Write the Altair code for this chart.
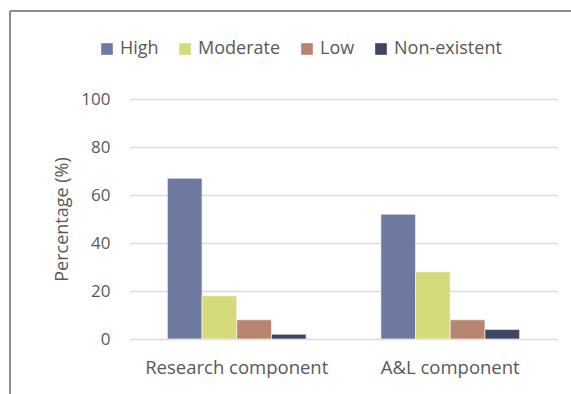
import altair as alt
import pandas as pd

# Survey results: share of respondents per level, by component
components = ["Research component", "A&L component"]
levels = ["High", "Moderate", "Low", "Non-existent"]
research_values = [67, 18, 8, 2]
al_values = [52, 28, 8, 4]
level_colors = ["#6F7AA0", "#D5DB7B", "#B88571", "#3E4666"]

rows = []
for comp, vals in zip(components, [research_values, al_values]):
    for lvl, v in zip(levels, vals):
        rows.append({"component": comp, "level": lvl, "pct": v})
df = pd.DataFrame(rows)

FONT = "Open Sans"
GREY_TEXT = "#595959"

bars = alt.Chart(df).mark_bar(stroke="white", strokeWidth=0.6).encode(
    x=alt.X(
        "component:N",
        sort=components,
        scale=alt.Scale(paddingInner=0.35, paddingOuter=0.175),
        axis=alt.Axis(
            title=None, labelAngle=0, labelFontSize=18.5, labelColor=GREY_TEXT,
            labelFont=FONT, labelPadding=19, labelLimit=0, ticks=False,
            domain=False,
        ),
    ),
    xOffset=alt.XOffset("level:N", sort=levels),
    y=alt.Y(
        "pct:Q",
        scale=alt.Scale(domain=[0, 100]),
        axis=alt.Axis(
            title="Percentage (%)", values=[0, 20, 40, 60, 80, 100],
            labelFontSize=17, labelColor=GREY_TEXT, labelFont=FONT,
            labelPadding=20, ticks=False, domain=False,
            gridColor="#D9D9D9", gridWidth=1.5,
            titleFont=FONT, titleFontSize=18, titleFontWeight="normal",
            titleColor=GREY_TEXT, titleX=-68, titleY=120, titleAngle=-90,
            titleAlign="center", titleBaseline="middle",
        ),
    ),
    color=alt.Color(
        "level:N",
        sort=levels,
        scale=alt.Scale(domain=levels, range=level_colors),
        legend=alt.Legend(
            title=None, orient="none", direction="horizontal",
            legendX=-32, legendY=-59, symbolType="square", symbolSize=135,
            symbolStrokeWidth=0, labelFontSize=18, labelColor=GREY_TEXT,
            labelFont=FONT, labelOffset=4, columnPadding=17,
        ),
    ),
)

# Outer frame: top and left edges of the chart box
frame_df = pd.DataFrame({"edge": [0]})
frame_top = alt.Chart(frame_df).mark_rule(color="#8C8C8C", strokeWidth=2).encode(
    x=alt.value(-120), x2=alt.value(441), y=alt.value(-88)
)
frame_left = alt.Chart(frame_df).mark_rule(color="#8C8C8C", strokeWidth=2).encode(
    x=alt.value(-120), y=alt.value(-88), y2=alt.value(300)
)

chart = alt.layer(bars, frame_top, frame_left).properties(
    width=427,
    height=240,
    autosize=alt.AutoSizeParams(type="none"),
    padding={"left": 130, "top": 99, "right": 14, "bottom": 55},
    background="white",
).configure_view(stroke=None)

chart.save("out.html", embed_options={"renderer": "svg", "actions": False})
